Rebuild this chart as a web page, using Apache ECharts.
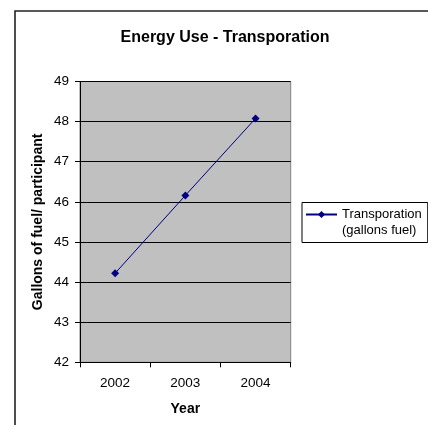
<!DOCTYPE html>
<html>
<head>
<meta charset="utf-8">
<script src="https://cdn.jsdelivr.net/npm/echarts@6/dist/echarts.min.js"></script>
<style>
html,body{margin:0;padding:0;background:#fff;}
#c{width:428px;height:425px;}
</style>
</head>
<body>
<div id="c"></div>
<script>
const titleText = 'Energy Use - Transporation';
const categories = ['2002', '2003', '2004'];
const seriesName = 'Transporation (gallons fuel)';
const legendLines = ['Transporation', '(gallons fuel)'];
const values = [44.22, 46.16, 48.08];
const yMin = 42, yMax = 49, yStep = 1;
const xAxisName = 'Year';
const yAxisName = 'Gallons of fuel/ participant';

const chart = echarts.init(document.getElementById('c'), null, {renderer: 'canvas'});
const font = 'Liberation Sans, Arial, sans-serif';
chart.setOption({
  animation: false,
  backgroundColor: '#fff',
  textStyle: {fontFamily: font, color: '#000'},
  graphic: [{
    type: 'rect', z: -10, silent: true,
    shape: {x: 15, y: 11, width: 600, height: 600},
    style: {fill: 'none', stroke: '#222', lineWidth: 1.6}
  }],
  title: {
    text: titleText,
    left: 225, top: 29.5, padding: 0, textAlign: 'center',
    textStyle: {fontFamily: font, fontSize: 16, fontWeight: 'bold', color: '#000'}
  },
  legend: {
    left: 302, top: 202.5,
    padding: [-12, 6, 4, 3],
    itemWidth: 31, itemHeight: 9,
    backgroundColor: '#fff',
    borderColor: '#000', borderWidth: 1, borderRadius: 0,
    formatter: function () { return '\n' + legendLines.join('\n'); },
    textStyle: {
      fontFamily: font, fontSize: 13, lineHeight: 16, color: '#000',
      backgroundColor: 'rgba(255,255,255,0)'
    },
    data: [seriesName]
  },
  grid: {
    left: 80, top: 81.5, width: 210.7, height: 280.8,
    show: true, backgroundColor: '#C0C0C0', borderColor: '#808080', borderWidth: 1,
    containLabel: false
  },
  xAxis: {
    type: 'category', data: categories, boundaryGap: true,
    name: xAxisName, nameLocation: 'middle', nameGap: 40,
    nameTextStyle: {fontFamily: font, fontSize: 14, fontWeight: 'bold', color: '#000'},
    axisLine: {show: true, lineStyle: {color: '#000', width: 1}},
    axisTick: {show: true, inside: false, length: 5, alignWithLabel: false, lineStyle: {color: '#000'}},
    axisLabel: {fontFamily: font, fontSize: 13.5, color: '#000', margin: 14},
    splitLine: {show: false}
  },
  yAxis: {
    type: 'value', min: yMin, max: yMax, interval: yStep,
    name: yAxisName, nameLocation: 'middle', nameGap: 35,
    nameTextStyle: {fontFamily: font, fontSize: 14, fontWeight: 'bold', color: '#000'},
    axisLine: {show: true, lineStyle: {color: '#000', width: 1}},
    axisTick: {show: true, inside: false, length: 5, lineStyle: {color: '#000'}},
    axisLabel: {fontFamily: font, fontSize: 13.5, color: '#000', margin: 11},
    splitLine: {show: true, lineStyle: {color: '#000', width: 1}}
  },
  series: [{
    name: seriesName,
    type: 'line',
    data: values,
    symbol: 'diamond', symbolSize: 8,
    showSymbol: true,
    lineStyle: {color: '#000080', width: 1},
    itemStyle: {color: '#000080'},
    emphasis: {disabled: true}
  }]
});
</script>
</body>
</html>
